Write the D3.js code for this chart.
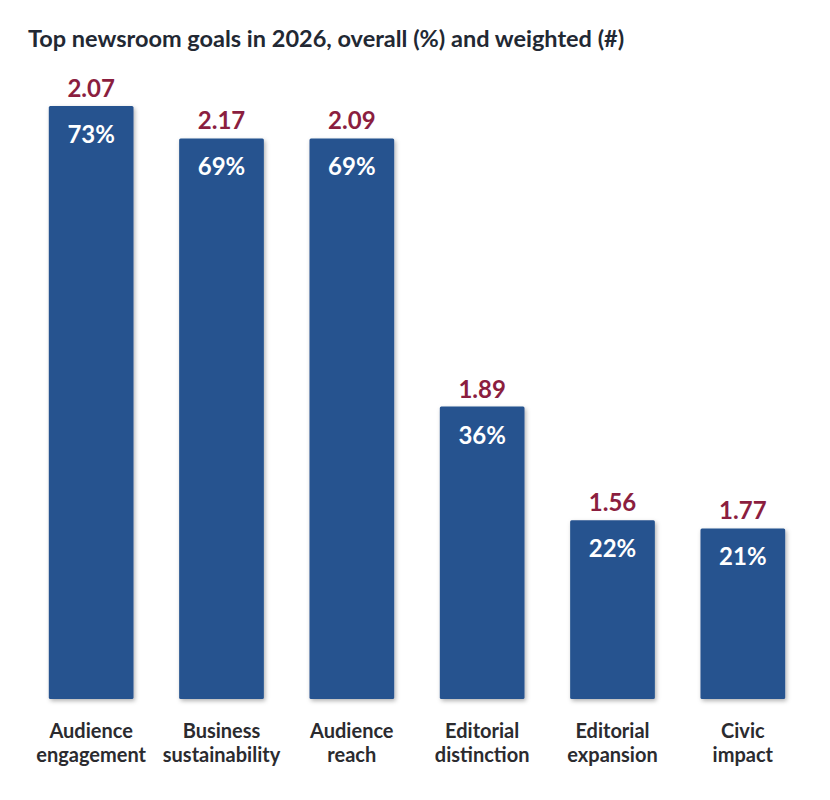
<!DOCTYPE html>
<html>
<head>
<meta charset="utf-8">
<script src="https://cdn.jsdelivr.net/npm/d3@7"></script>
<style>
  body { margin: 0; background: #fff; }
  text { font-family: Lato, "Open Sans", sans-serif; }
</style>
</head>
<body>
<div id="chart"></div>
<script>
// Chart data
const categories = [
  ["Audience", "engagement"],
  ["Business", "sustainability"],
  ["Audience", "reach"],
  ["Editorial", "distinction"],
  ["Editorial", "expansion"],
  ["Civic", "impact"]
];
const overallPct = [73, 69, 69, 36, 22, 21];
const weighted = [2.07, 2.17, 2.09, 1.89, 1.56, 1.77];

const W = 830, H = 800;
const baseY = 699;

const svg = d3.select("#chart")
  .append("svg")
  .attr("width", W)
  .attr("height", H);

// Drop shadow for bars
const defs = svg.append("defs");
defs.append("filter")
  .attr("id", "shadow")
  .attr("x", "-10%").attr("y", "-10%")
  .attr("width", "130%").attr("height", "130%")
  .append("feDropShadow")
  .attr("dx", 1.5).attr("dy", 2)
  .attr("stdDeviation", 2)
  .attr("flood-color", "#000")
  .attr("flood-opacity", 0.3);

// Title
svg.append("text")
  .attr("x", 28)
  .attr("y", 47)
  .attr("font-size", 23.5)
  .attr("font-weight", 700)
  .attr("fill", "#222833")
  .text("Top newsroom goals in 2026, overall (%) and weighted (#)");

const x = d3.scaleBand()
  .domain(d3.range(categories.length))
  .range([26, 808])
  .paddingInner(0.35)
  .paddingOuter(0.175);

const y = d3.scaleLinear()
  .domain([0, 73])
  .range([baseY, 106]);

const g = svg.append("g");

// Bars
g.selectAll(".bar")
  .data(overallPct)
  .enter()
  .append("rect")
  .attr("class", "bar")
  .attr("x", (d, i) => x(i))
  .attr("y", d => y(d))
  .attr("width", x.bandwidth())
  .attr("height", d => baseY - y(d))
  .attr("rx", 1.5)
  .attr("fill", "#27538f")
  .attr("filter", "url(#shadow)");

// Percentage labels inside bars
g.selectAll(".pct")
  .data(overallPct)
  .enter()
  .append("text")
  .attr("class", "pct")
  .attr("x", (d, i) => x(i) + x.bandwidth() / 2)
  .attr("y", d => y(d) + 37)
  .attr("text-anchor", "middle")
  .attr("font-size", 24)
  .attr("font-weight", 700)
  .attr("fill", "#ffffff")
  .text(d => d + "%");

// Weighted labels above bars
g.selectAll(".wt")
  .data(weighted)
  .enter()
  .append("text")
  .attr("class", "wt")
  .attr("x", (d, i) => x(i) + x.bandwidth() / 2)
  .attr("y", (d, i) => y(overallPct[i]) - 9)
  .attr("text-anchor", "middle")
  .attr("font-size", 24)
  .attr("font-weight", 700)
  .attr("fill", "#8b1e3f")
  .text(d => d.toFixed(2));

// Category labels
const cat = g.selectAll(".cat")
  .data(categories)
  .enter()
  .append("text")
  .attr("class", "cat")
  .attr("x", (d, i) => x(i) + x.bandwidth() / 2)
  .attr("y", 738)
  .attr("text-anchor", "middle")
  .attr("font-size", 20)
  .attr("font-weight", 700)
  .attr("fill", "#2b2b2f");

cat.selectAll("tspan")
  .data(d => d)
  .enter()
  .append("tspan")
  .attr("x", function() { return d3.select(this.parentNode).attr("x"); })
  .attr("dy", (d, i) => i === 0 ? 0 : 23.5)
  .text(d => d);
</script>
</body>
</html>
